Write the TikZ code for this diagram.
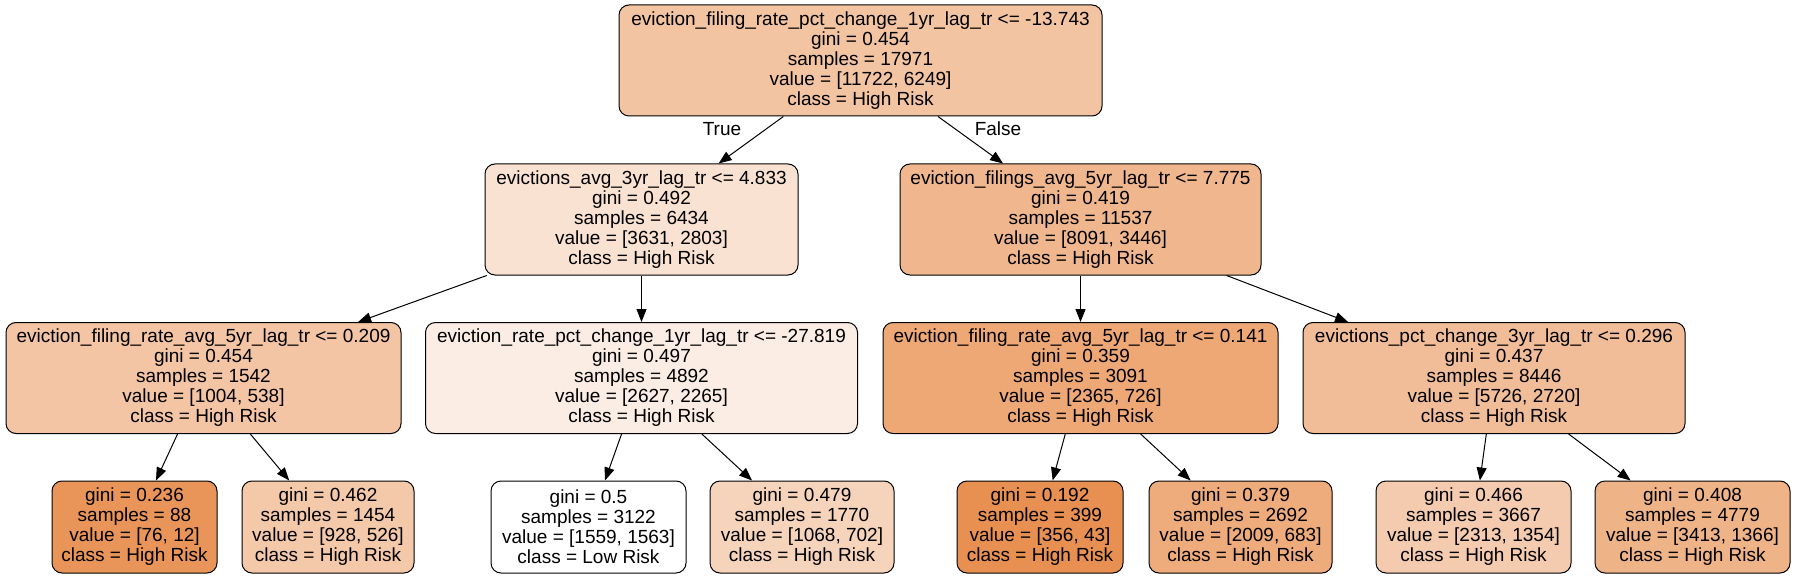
\documentclass[tikz,border=0pt]{standalone}
\usepackage{fontspec}
\setmainfont{Liberation Sans}
\usetikzlibrary{arrows.meta}
\tikzset{>={Triangle[length=13pt,width=10pt]}}
\definecolor{hirisk}{RGB}{229,129,57}
\newcommand\treefont{\fontsize{19}{20}\selectfont}

\begin{document}
\begin{tikzpicture}[x=1pt,y=-1pt,
    split/.style={draw,rounded corners=10pt,line width=1pt,inner sep=0pt,
      minimum height=111pt,align=center,font=\treefont},
    leaf/.style={split,minimum height=92pt}]
    \useasboundingbox (0,0) rectangle (1795,577);

    % depth 0 and 1
    \node[split,fill=hirisk!47!white,minimum width=483pt] (root) at (860.5,60.5)
      {eviction\_filing\_rate\_pct\_change\_1yr\_lag\_tr <= -13.743\\gini = 0.454\\samples = 17971\\value = [11722, 6249]\\class = High Risk};
    \node[split,fill=hirisk!23!white,minimum width=313pt] (avg3) at (641.5,219.5)
      {evictions\_avg\_3yr\_lag\_tr <= 4.833\\gini = 0.492\\samples = 6434\\value = [3631, 2803]\\class = High Risk};
    \node[split,fill=hirisk!57!white,minimum width=361pt] (filings5) at (1080.5,219.5)
      {eviction\_filings\_avg\_5yr\_lag\_tr <= 7.775\\gini = 0.419\\samples = 11537\\value = [8091, 3446]\\class = High Risk};

    % depth 2
    \node[split,fill=hirisk!46!white,minimum width=395pt] (rate5a) at (203.5,378)
      {eviction\_filing\_rate\_avg\_5yr\_lag\_tr <= 0.209\\gini = 0.454\\samples = 1542\\value = [1004, 538]\\class = High Risk};
    \node[split,fill=hirisk!14!white,minimum width=432pt] (ratechg) at (641.5,378)
      {eviction\_rate\_pct\_change\_1yr\_lag\_tr <= -27.819\\gini = 0.497\\samples = 4892\\value = [2627, 2265]\\class = High Risk};
    \node[split,fill=hirisk!69!white,minimum width=395pt] (rate5b) at (1080.5,378)
      {eviction\_filing\_rate\_avg\_5yr\_lag\_tr <= 0.141\\gini = 0.359\\samples = 3091\\value = [2365, 726]\\class = High Risk};
    \node[split,fill=hirisk!52!white,minimum width=382pt] (pct3) at (1494,378)
      {evictions\_pct\_change\_3yr\_lag\_tr <= 0.296\\gini = 0.437\\samples = 8446\\value = [5726, 2720]\\class = High Risk};

    % leaves
    \node[leaf,fill=hirisk!84!white,minimum width=165pt] (leafa) at (134.5,527)
      {gini = 0.236\\samples = 88\\value = [76, 12]\\class = High Risk};
    \node[leaf,fill=hirisk!43!white,minimum width=172pt] (leafb) at (328,527)
      {gini = 0.462\\samples = 1454\\value = [928, 526]\\class = High Risk};
    \node[leaf,fill=white,minimum width=195pt] (leafc) at (588.5,527)
      {gini = 0.5\\samples = 3122\\value = [1559, 1563]\\class = Low Risk};
    \node[leaf,fill=hirisk!34!white,minimum width=184pt] (leafd) at (802,527)
      {gini = 0.479\\samples = 1770\\value = [1068, 702]\\class = High Risk};
    \node[leaf,fill=hirisk!88!white,minimum width=166pt] (leafe) at (1040,527)
      {gini = 0.192\\samples = 399\\value = [356, 43]\\class = High Risk};
    \node[leaf,fill=hirisk!66!white,minimum width=183pt] (leaff) at (1240.5,527)
      {gini = 0.379\\samples = 2692\\value = [2009, 683]\\class = High Risk};
    \node[leaf,fill=hirisk!41!white,minimum width=195pt] (leafg) at (1473.5,527)
      {gini = 0.466\\samples = 3667\\value = [2313, 1354]\\class = High Risk};
    \node[leaf,fill=hirisk!60!white,minimum width=195pt] (leafh) at (1692.5,527)
      {gini = 0.408\\samples = 4779\\value = [3413, 1366]\\class = High Risk};

    \node[font=\treefont] (true) at (722,129) {True};
    \node[font=\treefont] (false) at (998,129) {False};

    \foreach \a/\b in {root/avg3,root/filings5,avg3/rate5a,avg3/ratechg,
        filings5/rate5b,filings5/pct3,rate5a/leafa,rate5a/leafb,
        ratechg/leafc,ratechg/leafd,rate5b/leafe,rate5b/leaff,
        pct3/leafg,pct3/leafh} {
        \draw[->,line width=1pt] (\a) -- (\b);
      }
  \end{tikzpicture}
\end{document}
